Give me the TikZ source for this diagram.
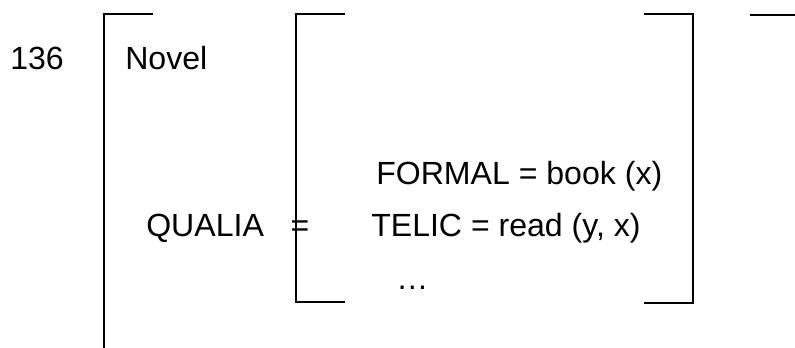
\documentclass[tikz,border=0pt]{standalone}
\usepackage{fontspec}
\setmainfont{Liberation Sans}
\usepackage{tikz}
\usetikzlibrary{positioning}

\tikzset{
  brk/.style={line width=1.3pt, line cap=rect},
  lbl/.style={font=\fontsize{22.8}{27}\selectfont, inner sep=0pt, anchor=base west},
}

\begin{document}
\begin{tikzpicture}[x=0.025cm, y=-0.025cm]
\useasboundingbox (0,0) rectangle (795,348);
% left column
\node[lbl] (num) at (10,70) {136};
\node[lbl] (head) at (125,70) {Novel};
\node[lbl] (qualia) at (146,236) {QUALIA};
\node[lbl, anchor=base] (eq) at (300,236) {=};
% qualia structure
\node[lbl] (formal) at (376,184) {FORMAL = book (x)};
\node[lbl] (telic) at (371,236) {TELIC = read (y, x)};
\node[lbl] (dots) at (396,289) {\dots};
% outer bracket
\draw[brk] (152,14) -- (104,14) -- (104,348);
\draw[brk] (751,15) -- (795,15);
% inner brackets
\draw[brk] (344,14) -- (296,14) -- (296,302) -- (344,302);
\draw[brk] (645,14) -- (693,14) -- (693,303) -- (645,303);
\end{tikzpicture}
\end{document}
